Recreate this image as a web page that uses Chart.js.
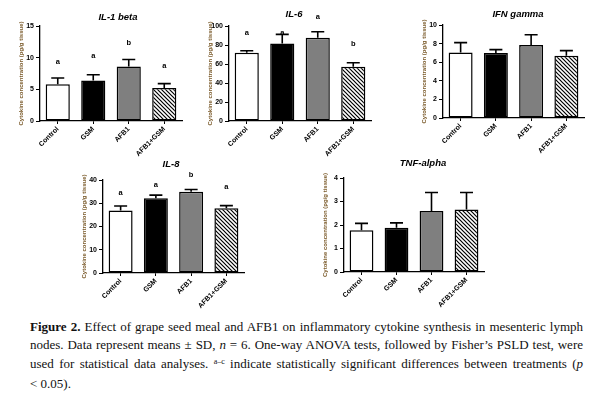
<!DOCTYPE html>
<html>
<head>
<meta charset="utf-8">
<script src="https://cdn.jsdelivr.net/npm/chart.js@4.4.1/dist/chart.umd.min.js"></script>
<style>
  html, body { margin:0; padding:0; background:#fff; }
  body { width:600px; height:396px; position:relative; overflow:hidden; }
  canvas { position:absolute; }
  .ttl { position:absolute; transform:translate(-50%,-50%); font-family:"Liberation Sans", Arial, sans-serif; font-weight:bold; font-style:italic; font-size:9.5px; color:#000; white-space:nowrap; }
  #cap { position:absolute; left:30px; top:318px; width:553px; font-family:"Liberation Serif", "Times New Roman", serif; font-size:13px; line-height:18.3px; color:#111; }
  .j { text-align:justify; text-align-last:justify; }
  .sup { font-size:8px; position:relative; top:-4px; }
</style>
</head>
<body>
<canvas id="c1"></canvas>
<canvas id="c2"></canvas>
<canvas id="c3"></canvas>
<canvas id="c4"></canvas>
<canvas id="c5"></canvas>
<div class="ttl" style="left:118px;top:16px">IL-1 beta</div>
<div class="ttl" style="left:294px;top:13px">IL-6</div>
<div class="ttl" style="left:518px;top:13px">IFN gamma</div>
<div class="ttl" style="left:171px;top:163px">IL-8</div>
<div class="ttl" style="left:423px;top:162px">TNF-alpha</div>
<div id="cap">
  <div class="j"><b>Figure 2.</b> Effect of grape seed meal and AFB1 on inflammatory cytokine synthesis in mesenteric lymph</div>
  <div class="j">nodes. Data represent means ± SD, <i>n</i> = 6. One-way ANOVA tests, followed by Fisher’s PSLD test, were</div>
  <div class="j">used for statistical data analyses. <span class="sup">a–c</span> indicate statistically significant differences between treatments (<i>p</i></div>
  <div>&lt; 0.05).</div>
</div>
<script>
// ---- data ----
const categories = ['Control', 'GSM', 'AFB1', 'AFB1+GSM'];

const il1Means = [5.8, 6.4, 8.6, 5.2];
const il1SD = [1.0, 0.9, 1.1, 0.7];
const il1Letters = ['a', 'a', 'b', 'a'];
const il1LetterY = [9.4, 10.3, 12.3, 8.7];
const il1Ticks = [0, 5, 10, 15];

const il6Means = [71.8, 81.7, 87.7, 57.0];
const il6SD = [2.2, 9.5, 6.3, 4.3];
const il6Letters = ['a', 'a', 'a', 'b'];
const il6LetterY = [93, 93, 110, 81];
const il6Ticks = [0, 20, 40, 60, 80, 100];

const ifnMeans = [7.05, 7.0, 7.85, 6.7];
const ifnSD = [1.05, 0.35, 1.1, 0.55];
const ifnTicks = [0, 2, 4, 6, 8, 10];

const il8Means = [26.9, 32.2, 34.9, 27.9];
const il8SD = [1.9, 1.3, 1.0, 1.1];
const il8Letters = ['a', 'a', 'b', 'a'];
const il8LetterY = [34.3, 38, 42, 36.9];
const il8Ticks = [0, 10, 20, 30, 40];

const tnfMeans = [1.78, 1.88, 2.6, 2.66];
const tnfSD = [0.29, 0.21, 0.78, 0.72];
const tnfTicks = [0, 1, 2, 3, 4];

const yTitle = 'Cytokine concentration (pg/g tissue)';

// ---- styles ----
const FONT = '"Liberation Sans", Arial, sans-serif';
const hatch = (() => {
  const c = document.createElement('canvas');
  c.width = 4; c.height = 4;
  const g = c.getContext('2d');
  g.fillStyle = '#fff'; g.fillRect(0, 0, 4, 4);
  g.strokeStyle = '#000'; g.lineWidth = 1.2;
  g.beginPath();
  g.moveTo(-1, -1); g.lineTo(5, 5);
  g.moveTo(3, -1); g.lineTo(5, 1);
  g.moveTo(-1, 3); g.lineTo(1, 5);
  g.stroke();
  return g.createPattern(c, 'repeat');
})();
const barColors = ['#ffffff', '#000000', '#7f7f7f', hatch];

const errPlugin = {
  id: 'errbars',
  afterDatasetsDraw(chart) {
    const o = chart.options.plugins.errbars;
    const { ctx } = chart;
    const xs = chart.scales.x, ys = chart.scales.y;
    const means = chart.data.datasets[0].data;
    ctx.save();
    ctx.strokeStyle = '#000';
    ctx.lineWidth = 1.6;
    means.forEach((m, i) => {
      const xp = xs.getPixelForValue(i);
      const y0 = ys.getPixelForValue(m);
      const y1 = ys.getPixelForValue(m + o.sd[i]);
      ctx.beginPath();
      ctx.moveTo(xp, y0); ctx.lineTo(xp, y1);
      ctx.moveTo(xp - 6.5, y1); ctx.lineTo(xp + 6.5, y1);
      ctx.stroke();
    });
    if (o.letters) {
      ctx.fillStyle = '#000';
      ctx.font = 'bold 7.5px ' + FONT;
      ctx.textAlign = 'center';
      ctx.textBaseline = 'middle';
      o.letters.forEach((t, i) => {
        ctx.fillText(t, xs.getPixelForValue(i), ys.getPixelForValue(o.letterY[i]));
      });
    }
    ctx.restore();
  }
};

function panel(id, area, means, sd, ticks, letters, letterY) {
  const padTop = 14, yW = 40, xH = 42, padR = 6;
  const cv = document.getElementById(id);
  const w = area.w + yW + padR, h = area.h + padTop + xH;
  cv.width = w; cv.height = h;
  cv.style.left = (area.l - yW) + 'px';
  cv.style.top = (area.t - padTop) + 'px';
  cv.style.width = w + 'px'; cv.style.height = h + 'px';
  new Chart(cv, {
    type: 'bar',
    data: {
      labels: categories,
      datasets: [{
        data: means,
        backgroundColor: barColors,
        borderColor: '#000',
        borderWidth: 1.5,
        borderSkipped: false,
        barPercentage: 0.68,
        categoryPercentage: 1.0
      }]
    },
    options: {
      responsive: false,
      animation: false,
      devicePixelRatio: 1,
      layout: { padding: { top: padTop, right: padR, left: 0, bottom: 0 } },
      plugins: {
        legend: { display: false },
        tooltip: { enabled: false },
        errbars: { sd: sd, letters: letters, letterY: letterY }
      },
      scales: {
        x: {
          ticks: { font: { family: FONT, size: 7, weight: 'bold' }, color: '#000', minRotation: 45, maxRotation: 45, autoSkip: false, padding: 1 },
          grid: { drawOnChartArea: false, drawTicks: true, tickLength: 3, color: '#000', lineWidth: 1, offset: false },
          border: { display: true, color: '#000', width: 1.3 },
          afterFit: s => { s.height = xH; }
        },
        y: {
          min: ticks[0], max: ticks[ticks.length - 1],
          afterBuildTicks: s => { s.ticks = ticks.map(v => ({ value: v })); },
          ticks: { font: { family: FONT, size: 7, weight: 'bold' }, color: '#000', padding: 2 },
          grid: { drawOnChartArea: false, drawTicks: true, tickLength: 4, color: '#000', lineWidth: 1 },
          border: { display: true, color: '#000', width: 1.3 },
          title: { display: true, text: yTitle, font: { family: FONT, size: 6, weight: 'bold' }, color: '#7b5b2b', padding: { top: 18, bottom: 0 } },
          afterFit: s => { s.width = yW; }
        }
      }
    },
    plugins: [errPlugin]
  });
}

panel('c1', { l: 40, t: 26, w: 142, h: 95 }, il1Means, il1SD, il1Ticks, il1Letters, il1LetterY);
panel('c2', { l: 229, t: 26, w: 142, h: 95 }, il6Means, il6SD, il6Ticks, il6Letters, il6LetterY);
panel('c3', { l: 443, t: 25, w: 141, h: 93 }, ifnMeans, ifnSD, ifnTicks, null, null);
panel('c4', { l: 103, t: 180, w: 141, h: 93 }, il8Means, il8SD, il8Ticks, il8Letters, il8LetterY);
panel('c5', { l: 344, t: 178, w: 140, h: 94 }, tnfMeans, tnfSD, tnfTicks, null, null);
</script>
</body>
</html>
